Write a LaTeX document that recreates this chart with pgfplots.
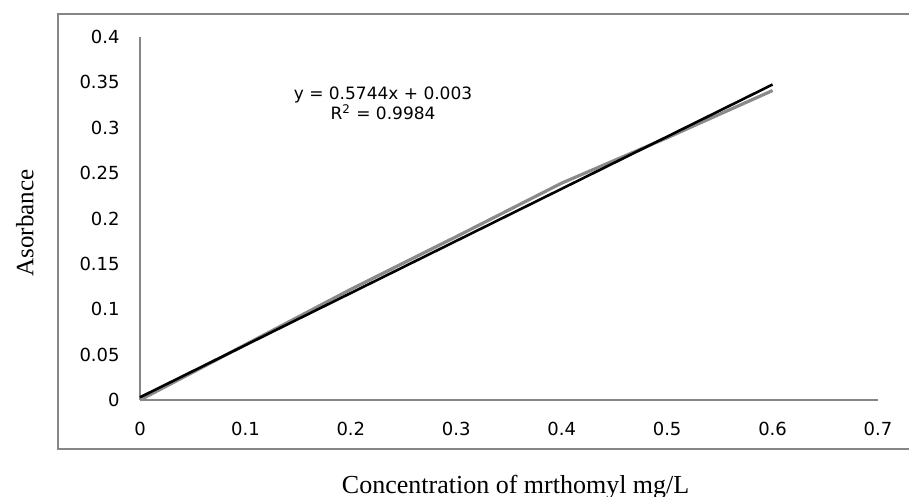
\documentclass[border=0pt]{standalone}
\usepackage{pgfplots}
\pgfplotsset{compat=1.18}
\usepackage{fontspec}
\setmainfont{Liberation Serif}
\newfontfamily\ticksfont{DejaVu Sans}
\definecolor{framegray}{HTML}{868686}
\definecolor{datagray}{HTML}{8A8A8A}
\begin{document}
\begin{tikzpicture}
\useasboundingbox (-70pt,-48.5pt) rectangle (384.5pt,200pt);
\draw[framegray, line width=1pt] (384.5pt,193pt) -- (-41pt,193pt) -- (-41pt,-24.5pt) -- (384.5pt,-24.5pt);
\begin{axis}[
  at={(0,0)}, anchor=south west,
  scale only axis,
  width=369pt, height=181.5pt,
  xmin=0, xmax=0.7, ymin=0, ymax=0.4,
  axis x line*=bottom, axis y line*=left,
  axis line style={draw=framegray, line width=1pt, -},
  major tick length=0pt,
  xtick={0,0.1,0.2,0.3,0.4,0.5,0.6,0.7},
  xticklabels={0,0.1,0.2,0.3,0.4,0.5,0.6,0.7},
  ytick={0,0.05,0.1,0.15,0.2,0.25,0.3,0.35,0.4},
  yticklabels={0,0.05,0.1,0.15,0.2,0.25,0.3,0.35,0.4},
  ticklabel style={font=\ticksfont\fontsize{9}{10}\selectfont, text=black},
  xticklabel style={anchor=north, inner sep=0pt, yshift=-11pt},
  yticklabel style={anchor=east, inner sep=0pt, xshift=-10pt},
  xlabel={Concentration of mrthomyl mg/L},
  ylabel={Asorbance},
  x label style={at={(axis description cs:0.509,-0.240)}, anchor=center, font=\fontsize{13}{15}\selectfont},
  y label style={at={(axis description cs:-0.156,0.488)}, anchor=center, rotate=0, font=\fontsize{12.5}{15}\selectfont},
  clip=false,
]
\addplot[datagray, line width=1.6pt] coordinates {
  (0,0) (0.1,0.061) (0.2,0.122) (0.3,0.180) (0.4,0.239) (0.5,0.289) (0.6,0.341)
};
\addplot[black, line width=1.3pt] coordinates {
  (0,0.003) (0.6,0.34764)
};
\node[font=\ticksfont\fontsize{8.5}{10}\selectfont, anchor=center] at (axis cs:0.2305,0.336) {y = 0.5744x + 0.003};
\node[font=\ticksfont\fontsize{8.5}{10}\selectfont, anchor=center] at (axis cs:0.2305,0.317) {R\textsuperscript{2} = 0.9984};
\end{axis}
\end{tikzpicture}
\end{document}
